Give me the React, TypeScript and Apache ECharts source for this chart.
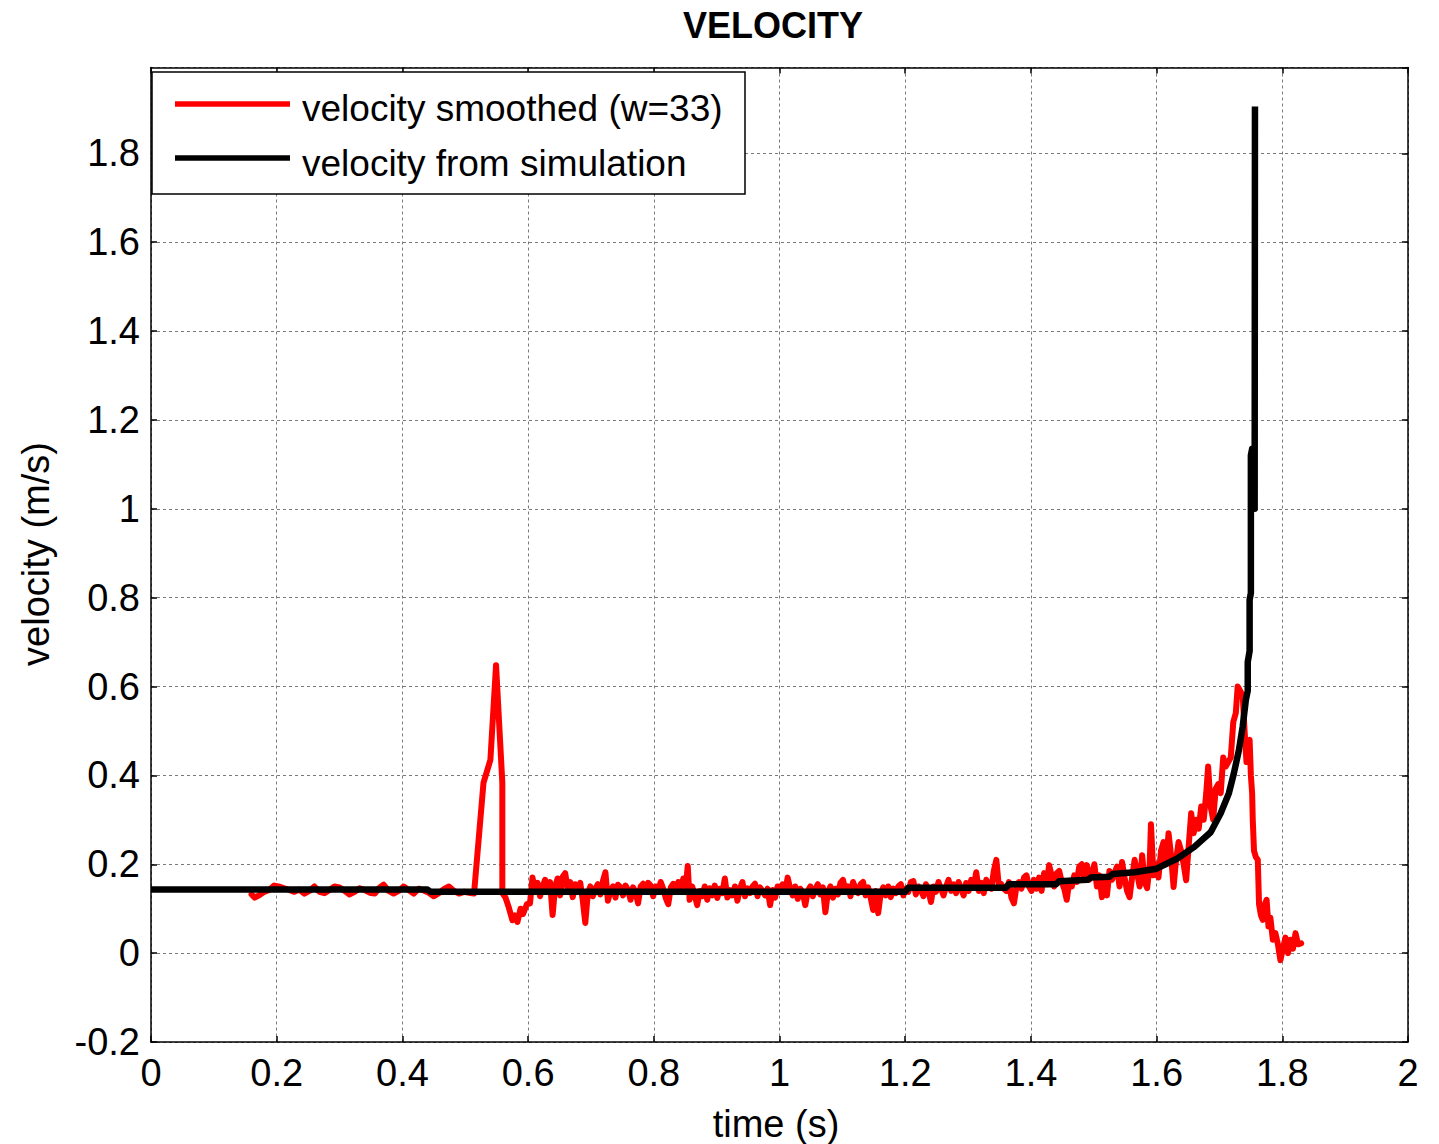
import React, { useEffect, useRef } from "react";
import * as echarts from "echarts";

const titleText = "VELOCITY";
const xName = "time (s)";
const yName = "velocity (m/s)";
const legendNames = ["velocity smoothed (w=33)", "velocity from simulation"];

const xMin = 0;
const xMax = 2;
const yMin = -0.2;
const yMax = 1.993;
const tickStep = 0.2;

// velocity from simulation: [time, velocity]
const simulation: [number, number][] = [
  [0, 0.143], [0.44, 0.143], [0.445, 0.138], [1.2, 0.138], [1.205, 0.147],
  [1.36, 0.147], [1.365, 0.155], [1.44, 0.155], [1.445, 0.162], [1.49, 0.165],
  [1.495, 0.17], [1.525, 0.172], [1.53, 0.178], [1.565, 0.182], [1.6, 0.19],
  [1.633, 0.213], [1.66, 0.239], [1.686, 0.272], [1.702, 0.315], [1.715, 0.36],
  [1.723, 0.405], [1.731, 0.457], [1.737, 0.51], [1.742, 0.57], [1.745, 0.59],
  [1.745, 0.655], [1.748, 0.68], [1.748, 0.795], [1.75, 0.81], [1.75, 1.12],
  [1.752, 1.135], [1.756, 1.135], [1.756, 1.0], [1.7565, 1.0], [1.7565, 1.905],
];

// velocity smoothed (w=33): [time, velocity]
const smoothed: [number, number][] = [
  [0.160, 0.132], [0.165, 0.125], [0.172, 0.130], [0.180, 0.138], [0.188, 0.142],
  [0.196, 0.152], [0.203, 0.150], [0.212, 0.146], [0.220, 0.142], [0.228, 0.138],
  [0.236, 0.143], [0.244, 0.134], [0.252, 0.140], [0.260, 0.150], [0.268, 0.138],
  [0.276, 0.135], [0.284, 0.142], [0.292, 0.150], [0.300, 0.148], [0.308, 0.140],
  [0.316, 0.132], [0.324, 0.138], [0.332, 0.146], [0.340, 0.142], [0.348, 0.136],
  [0.356, 0.134], [0.364, 0.148], [0.370, 0.154], [0.378, 0.140], [0.386, 0.134],
  [0.394, 0.140], [0.402, 0.150], [0.410, 0.142], [0.418, 0.134], [0.426, 0.145],
  [0.434, 0.141], [0.442, 0.136], [0.450, 0.128], [0.458, 0.135], [0.466, 0.144],
  [0.474, 0.150], [0.482, 0.140], [0.490, 0.134], [0.498, 0.138], [0.506, 0.136],
  [0.514, 0.134],
  [0.529, 0.383], [0.540, 0.435], [0.549, 0.648], [0.559, 0.383], [0.559, 0.135],
  [0.564, 0.125], [0.569, 0.104], [0.575, 0.074], [0.579, 0.085], [0.583, 0.070],
  [0.588, 0.100], [0.592, 0.088], [0.598, 0.110], [0.603, 0.112],
  [0.607, 0.170], [0.611, 0.140], [0.615, 0.158], [0.619, 0.128], [0.623, 0.150],
  [0.627, 0.165], [0.631, 0.142], [0.635, 0.160], [0.639, 0.086], [0.643, 0.150],
  [0.647, 0.168], [0.651, 0.130], [0.655, 0.172], [0.659, 0.180], [0.663, 0.145],
  [0.667, 0.160], [0.671, 0.126], [0.675, 0.155], [0.679, 0.142], [0.683, 0.158],
  [0.687, 0.118], [0.691, 0.068], [0.695, 0.135], [0.699, 0.150], [0.703, 0.128],
  [0.707, 0.145], [0.711, 0.155], [0.715, 0.132], [0.719, 0.162], [0.723, 0.182],
  [0.727, 0.118], [0.731, 0.140], [0.735, 0.150], [0.739, 0.125], [0.743, 0.154],
  [0.747, 0.148], [0.751, 0.130], [0.755, 0.152], [0.759, 0.142], [0.763, 0.120],
  [0.767, 0.148], [0.771, 0.138], [0.775, 0.112], [0.779, 0.150], [0.783, 0.156],
  [0.787, 0.140], [0.791, 0.158], [0.795, 0.152], [0.799, 0.128], [0.803, 0.150],
  [0.807, 0.138], [0.811, 0.160], [0.815, 0.145], [0.819, 0.124], [0.823, 0.110],
  [0.827, 0.148], [0.831, 0.156], [0.835, 0.138], [0.839, 0.160], [0.843, 0.145],
  [0.847, 0.168], [0.851, 0.150], [0.854, 0.196], [0.857, 0.120], [0.861, 0.150],
  [0.865, 0.132], [0.869, 0.108], [0.873, 0.140], [0.877, 0.128], [0.881, 0.150],
  [0.885, 0.120], [0.889, 0.146], [0.893, 0.130], [0.897, 0.152], [0.901, 0.124],
  [0.905, 0.145], [0.909, 0.135], [0.913, 0.168], [0.917, 0.125], [0.921, 0.142],
  [0.925, 0.130], [0.929, 0.150], [0.933, 0.118], [0.937, 0.145], [0.941, 0.160],
  [0.945, 0.128], [0.949, 0.146], [0.953, 0.135], [0.957, 0.150], [0.961, 0.156],
  [0.965, 0.128], [0.969, 0.148], [0.973, 0.140], [0.977, 0.130], [0.981, 0.145],
  [0.985, 0.108], [0.989, 0.142], [0.993, 0.125], [0.997, 0.150], [1.001, 0.138],
  [1.005, 0.155], [1.009, 0.140], [1.013, 0.170], [1.017, 0.145], [1.021, 0.130],
  [1.025, 0.150], [1.029, 0.122], [1.033, 0.145], [1.037, 0.136], [1.041, 0.108],
  [1.045, 0.140], [1.049, 0.150], [1.053, 0.128], [1.057, 0.145], [1.061, 0.155],
  [1.065, 0.132], [1.069, 0.148], [1.073, 0.092], [1.077, 0.138], [1.081, 0.150],
  [1.085, 0.125], [1.089, 0.145], [1.093, 0.132], [1.097, 0.158], [1.101, 0.165],
  [1.105, 0.140], [1.109, 0.150], [1.113, 0.128], [1.117, 0.160], [1.121, 0.145],
  [1.125, 0.135], [1.129, 0.155], [1.133, 0.160], [1.137, 0.130], [1.141, 0.148],
  [1.145, 0.125], [1.149, 0.097], [1.153, 0.140], [1.157, 0.090], [1.161, 0.135],
  [1.165, 0.148], [1.169, 0.130], [1.173, 0.150], [1.177, 0.126], [1.181, 0.145],
  [1.185, 0.135], [1.189, 0.150], [1.193, 0.155], [1.197, 0.130], [1.201, 0.145],
  [1.205, 0.138], [1.209, 0.160], [1.213, 0.162], [1.217, 0.132], [1.221, 0.150],
  [1.225, 0.142], [1.229, 0.128], [1.233, 0.155], [1.237, 0.140], [1.241, 0.115],
  [1.245, 0.150], [1.249, 0.138], [1.253, 0.160], [1.257, 0.145], [1.261, 0.130],
  [1.265, 0.150], [1.269, 0.165], [1.273, 0.140], [1.277, 0.155], [1.281, 0.135],
  [1.285, 0.160], [1.289, 0.145], [1.293, 0.130], [1.297, 0.158], [1.301, 0.140],
  [1.305, 0.165], [1.309, 0.150], [1.313, 0.182], [1.317, 0.140], [1.321, 0.158],
  [1.325, 0.135], [1.329, 0.165], [1.333, 0.150], [1.337, 0.145], [1.341, 0.185],
  [1.345, 0.210], [1.349, 0.150], [1.353, 0.155], [1.357, 0.145], [1.361, 0.140],
  [1.365, 0.160], [1.369, 0.125], [1.373, 0.112], [1.377, 0.150], [1.381, 0.160],
  [1.385, 0.145], [1.389, 0.170], [1.393, 0.175], [1.397, 0.150], [1.401, 0.140],
  [1.405, 0.165], [1.409, 0.145], [1.413, 0.170], [1.417, 0.140], [1.421, 0.180],
  [1.425, 0.155], [1.429, 0.198], [1.433, 0.175], [1.437, 0.150], [1.441, 0.180],
  [1.445, 0.185], [1.449, 0.160], [1.453, 0.145], [1.457, 0.120], [1.461, 0.160],
  [1.465, 0.150], [1.469, 0.175], [1.473, 0.160], [1.477, 0.195], [1.481, 0.200],
  [1.485, 0.170], [1.489, 0.198], [1.493, 0.165], [1.497, 0.180], [1.501, 0.200],
  [1.505, 0.150], [1.509, 0.175], [1.513, 0.126], [1.517, 0.160], [1.521, 0.130],
  [1.525, 0.185], [1.529, 0.165], [1.533, 0.180], [1.537, 0.195], [1.541, 0.150],
  [1.545, 0.205], [1.549, 0.170], [1.553, 0.140], [1.557, 0.126], [1.561, 0.170],
  [1.565, 0.210], [1.569, 0.180], [1.573, 0.150], [1.577, 0.220], [1.581, 0.160],
  [1.585, 0.146], [1.589, 0.200], [1.591, 0.290], [1.595, 0.175], [1.599, 0.200],
  [1.603, 0.170], [1.607, 0.230], [1.611, 0.250], [1.615, 0.200], [1.619, 0.270],
  [1.623, 0.220], [1.627, 0.149], [1.631, 0.210], [1.635, 0.250], [1.639, 0.230],
  [1.643, 0.200], [1.647, 0.164], [1.651, 0.240], [1.655, 0.315], [1.659, 0.270],
  [1.663, 0.300], [1.667, 0.280], [1.671, 0.330], [1.675, 0.300], [1.679, 0.360],
  [1.682, 0.420], [1.686, 0.330], [1.690, 0.300], [1.694, 0.370], [1.698, 0.380],
  [1.702, 0.360], [1.706, 0.440], [1.710, 0.420], [1.714, 0.430], [1.718, 0.440],
  [1.722, 0.520], [1.726, 0.540], [1.729, 0.600], [1.733, 0.590], [1.737, 0.580],
  [1.740, 0.500], [1.743, 0.430], [1.746, 0.460], [1.748, 0.480], [1.750, 0.400],
  [1.752, 0.360], [1.753, 0.300], [1.755, 0.230], [1.758, 0.216], [1.761, 0.210],
  [1.763, 0.110], [1.766, 0.085], [1.769, 0.075], [1.772, 0.110], [1.775, 0.120],
  [1.778, 0.060], [1.781, 0.080], [1.785, 0.030], [1.789, 0.045], [1.793, 0.020],
  [1.797, -0.016], [1.801, 0.010], [1.805, 0.035], [1.809, 0.000], [1.813, 0.030],
  [1.817, 0.010], [1.821, 0.045], [1.825, 0.020], [1.830, 0.022],
];

const FONT = "'Liberation Sans', Arial, Helvetica, sans-serif";

function fmt(v: number): string {
  const r = Math.round(v / tickStep) * tickStep;
  if (Math.abs(r - v) > 1e-6) return "";
  return String(parseFloat(r.toFixed(1)));
}

export default function App() {
  const ref = useRef<HTMLDivElement>(null);

  useEffect(() => {
    document.body.style.margin = "0";
    if (!ref.current) return;
    const chart = echarts.init(ref.current, null, { renderer: "svg" });

    const gridLine = { show: true, lineStyle: { color: "#7a7a7a", width: 1, type: [3, 3] as any } };
    const axisLine = { show: true, onZero: false, lineStyle: { color: "#000", width: 1.5 } };
    const labelStyle = { color: "#000", fontSize: 38, fontFamily: FONT };
    const tick = { show: true, inside: true, length: 6, lineStyle: { color: "#000", width: 1.5 } };

    const option: any = {
      animation: false,
      backgroundColor: "#fff",
      grid: { left: 151, right: 31, top: 67.5, bottom: 102, show: false },
      xAxis: [
        {
          type: "value", min: xMin, max: xMax, interval: tickStep,
          axisLine, axisTick: tick,
          axisLabel: { ...labelStyle, margin: 12, formatter: fmt, showMaxLabel: true },
          splitLine: gridLine,
        },
        {
          type: "value", position: "top", min: xMin, max: xMax, interval: tickStep,
          axisLine, axisTick: tick,
          axisLabel: { show: false }, splitLine: { show: false },
        },
      ],
      yAxis: [
        {
          type: "value", min: yMin, max: yMax, interval: tickStep,
          axisLine, axisTick: tick,
          axisLabel: { ...labelStyle, margin: 11, formatter: fmt, showMaxLabel: false },
          splitLine: gridLine,
        },
        {
          type: "value", position: "right", min: yMin, max: yMax, interval: tickStep,
          axisLine, axisTick: tick,
          axisLabel: { show: false }, splitLine: { show: false },
        },
      ],
      series: [
        {
          name: legendNames[0], type: "line", data: smoothed, showSymbol: false,
          xAxisIndex: 0, yAxisIndex: 0,
          lineStyle: { color: "#ff0000", width: 6, join: "round", cap: "round" },
          z: 2,
        },
        {
          name: legendNames[1], type: "line", data: simulation, showSymbol: false,
          xAxisIndex: 0, yAxisIndex: 0,
          lineStyle: { color: "#000000", width: 6.5, join: "round" },
          z: 3,
        },
      ],
      graphic: [
        {
          type: "text", x: 773, y: 25,
          style: { text: titleText, fill: "#000", font: `bold 36px ${FONT}`, align: "center", verticalAlign: "middle" },
        },
        {
          type: "text", x: 776, y: 1124,
          style: { text: xName, fill: "#000", font: `38px ${FONT}`, align: "center", verticalAlign: "middle" },
        },
        {
          type: "text", x: 36, y: 554, rotation: Math.PI / 2,
          style: { text: yName, fill: "#000", font: `38px ${FONT}`, align: "center", verticalAlign: "middle" },
        },
        {
          type: "group", z: 100,
          children: [
            { type: "rect", shape: { x: 152, y: 72, width: 593, height: 122 }, style: { fill: "#fff", stroke: "#000", lineWidth: 1.5 }, z: 100 },
            { type: "line", shape: { x1: 175, y1: 104, x2: 290, y2: 104 }, style: { stroke: "#ff0000", lineWidth: 5.5 }, z: 101 },
            { type: "line", shape: { x1: 175, y1: 158, x2: 290, y2: 158 }, style: { stroke: "#000", lineWidth: 5.5 }, z: 101 },
            { type: "text", x: 302, y: 108, style: { text: legendNames[0], fill: "#000", font: `37px ${FONT}`, verticalAlign: "middle" }, z: 101 },
            { type: "text", x: 302, y: 163, style: { text: legendNames[1], fill: "#000", font: `37px ${FONT}`, verticalAlign: "middle" }, z: 101 },
          ],
        },
      ],
    };

    chart.setOption(option);
    return () => chart.dispose();
  }, []);

  return <div ref={ref} style={{ width: 1439, height: 1144 }} />;
}
